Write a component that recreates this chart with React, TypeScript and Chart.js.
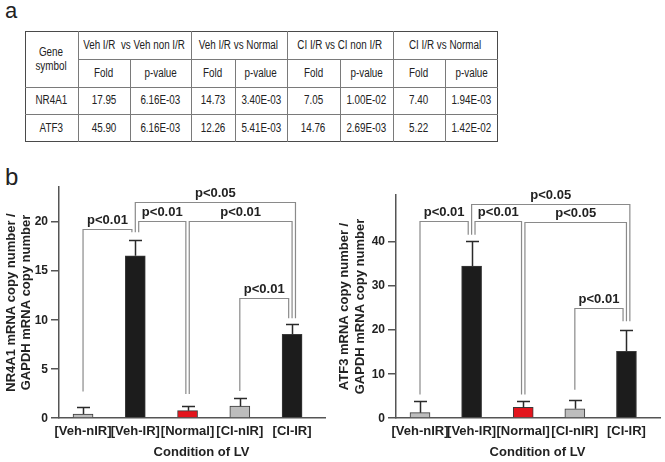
import React, { useEffect, useRef } from 'react';
import { Chart, registerables } from 'chart.js';
Chart.register(...registerables);

// ---------- data ----------
const categories = ['[Veh-nIR]', '[Veh-IR]', '[Normal]', '[CI-nIR]', '[CI-IR]'];
const barColors = ['#bdbdbd', '#1c1c1c', '#e3151d', '#bdbdbd', '#1c1c1c'];

const nr4a1Mean = [0.4, 16.5, 0.75, 1.2, 8.5];
const nr4a1Upper = [1.15, 18.1, 1.25, 2.05, 9.55];
const nr4a1Ticks = [0, 5, 10, 15, 20];
const nr4a1Max = 23.5;
const nr4a1BracketPairs = [[0, 1], [1, 2], [1, 4], [2, 4], [3, 4]];
const nr4a1BracketLevels = [19.25, 20.0, 22.0, 20.0, 12.2];
const nr4a1BracketEnds = [[2.7, 18.9], [18.9, 2.45], [18.9, 10.15], [2.45, 10.15], [2.75, 10.15]];
const nr4a1BracketLabels = ['p<0.01', 'p<0.01', 'p<0.05', 'p<0.01', 'p<0.01'];

const atf3Mean = [1.2, 34.4, 2.4, 2.1, 15.1];
const atf3Upper = [3.8, 40, 3.9, 4.1, 20];
const atf3Ticks = [0, 10, 20, 30, 40];
const atf3Max = 50.5;
const atf3BracketPairs = [[0, 1], [1, 2], [1, 4], [2, 4], [3, 4]];
const atf3BracketLevels = [44.5, 44.5, 48.5, 44.3, 24.9];
const atf3BracketEnds = [[5.3, 41.5], [41.5, 5.3], [41.5, 21.9], [5.3, 21.9], [6.4, 21.9]];
const atf3BracketLabels = ['p<0.01', 'p<0.01', 'p<0.05', 'p<0.05', 'p<0.01'];

const comparisons = ['Veh I/R  vs Veh non I/R', 'Veh I/R vs Normal', 'CI I/R vs CI non I/R', 'CI I/R vs Normal'];
const geneSymbols = ['NR4A1', 'ATF3'];
const nr4a1Fold = [17.95, 14.73, 7.05, 7.4];
const nr4a1PValue = ['6.16E-03', '3.40E-03', '1.00E-02', '1.94E-03'];
const atf3Fold = [45.9, 12.26, 14.76, 5.22];
const atf3PValue = ['6.16E-03', '5.41E-03', '2.69E-03', '1.42E-02'];

const xTitleText = 'Condition of LV';
const nr4a1YTitle = ['NR4A1 mRNA copy number /', 'GAPDH mRNA copy number'];
const atf3YTitle = ['ATF3 mRNA copy number /', 'GAPDH mRNA copy number'];

// ---------- styling ----------
const FONT = "'Liberation Sans', Arial, Helvetica, sans-serif";
const TEXT = '#222';
const AXIS = '#555';

function narrowAvailable(): boolean {
  try {
    const c = document.createElement('canvas').getContext('2d');
    if (!c) return false;
    const s = 'Veh I/R vs Normal p-value';
    c.font = "12px 'Liberation Sans Narrow', monospace";
    const a = c.measureText(s).width;
    c.font = '12px monospace';
    const b = c.measureText(s).width;
    return Math.abs(a - b) > 0.5;
  } catch (e) {
    return false;
  }
}

type ChartProps = {
  width: number;
  height: number;
  area: { left: number; top: number; right: number; bottom: number };
  xRange: [number, number];
  means: number[];
  uppers: number[];
  ticks: number[];
  max: number;
  pairs: number[][];
  levels: number[];
  ends: number[][];
  labels: string[];
  yTitle: string[];
  titlePad: number;
  style: React.CSSProperties;
};

function BarChart(p: ChartProps) {
  const ref = useRef<HTMLCanvasElement | null>(null);
  useEffect(() => {
    if (!ref.current) return;

    // leg offsets around each bar
    const perBar: Record<number, { key: string; dir: number; level: number }[]> = {};
    p.pairs.forEach(([a, b], bi) => {
      (perBar[a] = perBar[a] || []).push({ key: bi + '-0', dir: 1, level: p.levels[bi] });
      (perBar[b] = perBar[b] || []).push({ key: bi + '-1', dir: -1, level: p.levels[bi] });
    });
    const offsets: Record<string, number> = {};
    Object.keys(perBar).forEach((k) => {
      const legs = perBar[+k];
      const left = legs.filter((l) => l.dir === -1).sort((u, v) => u.level - v.level);
      const right = legs.filter((l) => l.dir === 1).sort((u, v) => v.level - u.level);
      const all = [...left, ...right];
      all.forEach((l, i) => {
        offsets[l.key] = (i - (all.length - 1) / 2) * 3.4;
      });
    });

    const errorBars = {
      id: 'errorBars',
      afterDatasetsDraw(chart: any) {
        const { ctx, scales } = chart;
        const x = scales.x, y = scales.y;
        ctx.save();
        ctx.strokeStyle = '#2a2a2a';
        ctx.lineWidth = 1.5;
        p.means.forEach((m, i) => {
          const px = Math.round(x.getPixelForValue(i)) + 0.5;
          const y0 = y.getPixelForValue(m);
          const y1 = Math.round(y.getPixelForValue(p.uppers[i])) + 0.5;
          ctx.beginPath();
          ctx.moveTo(px, y0);
          ctx.lineTo(px, y1);
          ctx.moveTo(px - 6.5, y1);
          ctx.lineTo(px + 6.5, y1);
          ctx.stroke();
        });
        ctx.restore();
      },
    };

    const brackets = {
      id: 'brackets',
      afterDatasetsDraw(chart: any) {
        const { ctx, scales } = chart;
        const x = scales.x, y = scales.y;
        ctx.save();
        ctx.strokeStyle = '#8a8a8a';
        ctx.lineWidth = 1.2;
        ctx.fillStyle = TEXT;
        ctx.font = `bold 13px ${FONT}`;
        ctx.textAlign = 'center';
        ctx.textBaseline = 'alphabetic';
        p.pairs.forEach(([a, b], bi) => {
          const xa = x.getPixelForValue(a) + offsets[bi + '-0'];
          const xb = x.getPixelForValue(b) + offsets[bi + '-1'];
          const yt = Math.round(y.getPixelForValue(p.levels[bi])) + 0.5;
          const ya = y.getPixelForValue(p.ends[bi][0]);
          const yb = y.getPixelForValue(p.ends[bi][1]);
          ctx.beginPath();
          ctx.moveTo(xa, ya);
          ctx.lineTo(xa, yt);
          ctx.lineTo(xb, yt);
          ctx.lineTo(xb, yb);
          ctx.stroke();
          ctx.fillText(p.labels[bi], (xa + xb) / 2, yt - 6);
        });
        ctx.restore();
      },
    };

    // y tick labels and x title
    const extraText = {
      id: 'extraText',
      afterDraw(chart: any) {
        const { ctx, chartArea, scales } = chart;
        ctx.save();
        ctx.fillStyle = TEXT;
        ctx.font = `bold 12px ${FONT}`;
        ctx.textAlign = 'right';
        ctx.textBaseline = 'middle';
        p.ticks.forEach((v) => {
          ctx.fillText(String(v), chartArea.left - 11, scales.y.getPixelForValue(v) + 0.5);
        });
        ctx.font = `bold 13px ${FONT}`;
        ctx.textAlign = 'center';
        ctx.fillText(xTitleText, (chartArea.left + chartArea.right) / 2 + 9.5, p.height - 10);
        ctx.restore();
      },
    };

    const chart = new Chart(ref.current, {
      type: 'bar',
      data: {
        datasets: [
          {
            data: p.means.map((v, i) => ({ x: i, y: v })),
            backgroundColor: barColors,
            borderColor: '#3a3a3a',
            borderWidth: 1,
            barThickness: 20,
          } as any,
        ],
      },
      options: {
        animation: false,
        responsive: false,
        devicePixelRatio: 1,
        layout: { padding: { top: p.area.top, right: p.width - p.area.right, left: 0, bottom: 0 } },
        plugins: { legend: { display: false }, tooltip: { enabled: false }, title: { display: false } },
        scales: {
          x: {
            type: 'linear',
            min: p.xRange[0],
            max: p.xRange[1],
            offset: false,
            afterBuildTicks: (s: any) => {
              s.ticks = categories.map((_, i) => ({ value: i }));
            },
            ticks: {
              callback: (v: any) => categories[v as number] ?? '',
              font: { family: FONT, size: 13, weight: 'bold' },
              color: TEXT,
              padding: 6,
              autoSkip: false,
              maxRotation: 0,
              minRotation: 0,
            },
            grid: { display: false, drawTicks: false, offset: false },
            border: { display: true, color: AXIS, width: 1.5 },
            afterFit: (s: any) => {
              s.height = p.height - p.area.bottom;
            },
          },
          y: {
            type: 'linear',
            min: 0,
            max: p.max,
            afterBuildTicks: (s: any) => {
              s.ticks = p.ticks.map((v) => ({ value: v }));
            },
            ticks: { display: false, autoSkip: false },
            grid: { display: true, drawOnChartArea: false, drawTicks: true, tickLength: 8, color: AXIS, lineWidth: 1.5 },
            border: { display: true, color: AXIS, width: 1.5 },
            title: {
              display: true,
              text: p.yTitle,
              font: { family: FONT, size: 13, weight: 'bold', lineHeight: 1.2 },
              color: TEXT,
              padding: { top: p.titlePad, bottom: 0 },
            },
            afterFit: (s: any) => {
              s.width = p.area.left;
            },
          },
        },
      } as any,
      plugins: [errorBars, brackets, extraText],
    });
    return () => chart.destroy();
  }, []);
  return <canvas ref={ref} width={p.width} height={p.height} style={{ position: 'absolute', ...p.style, width: p.width, height: p.height }} />;
}

const colX = [25, 78, 130, 190.7, 235, 287, 340, 393, 445, 498];
const rowY = [31, 58.7, 86.7, 114.3, 142];

function DataTable() {
  const narrow = narrowAvailable();
  const fontFamily = narrow ? "'Liberation Sans Narrow', 'Arial Narrow', sans-serif" : FONT;
  const cells: { c0: number; c1: number; r0: number; r1: number; text: string }[] = [];
  cells.push({ c0: 0, c1: 1, r0: 0, r1: 2, text: 'Gene\nsymbol' });
  comparisons.forEach((t, i) => {
    cells.push({ c0: 1 + i * 2, c1: 3 + i * 2, r0: 0, r1: 1, text: t });
    cells.push({ c0: 1 + i * 2, c1: 2 + i * 2, r0: 1, r1: 2, text: 'Fold' });
    cells.push({ c0: 2 + i * 2, c1: 3 + i * 2, r0: 1, r1: 2, text: 'p-value' });
  });
  const rows = [
    { fold: nr4a1Fold, p: nr4a1PValue },
    { fold: atf3Fold, p: atf3PValue },
  ];
  geneSymbols.forEach((g, gi) => {
    cells.push({ c0: 0, c1: 1, r0: 2 + gi, r1: 3 + gi, text: g });
    rows[gi].fold.forEach((f, i) => {
      cells.push({ c0: 1 + i * 2, c1: 2 + i * 2, r0: 2 + gi, r1: 3 + gi, text: f.toFixed(2) });
      cells.push({ c0: 2 + i * 2, c1: 3 + i * 2, r0: 2 + gi, r1: 3 + gi, text: rows[gi].p[i] });
    });
  });

  const lines: React.ReactNode[] = [];
  const inner = '#7a7a7a';
  lines.push(<div key="h1" style={{ position: 'absolute', left: colX[1], top: rowY[1], width: colX[9] - colX[1], height: 1, background: inner }} />);
  lines.push(<div key="h2" style={{ position: 'absolute', left: colX[0], top: rowY[2], width: colX[9] - colX[0], height: 1, background: inner }} />);
  lines.push(<div key="h3" style={{ position: 'absolute', left: colX[0], top: rowY[3], width: colX[9] - colX[0], height: 1, background: inner }} />);
  [1, 3, 5, 7].forEach((c) => {
    lines.push(<div key={'vf' + c} style={{ position: 'absolute', left: colX[c], top: rowY[0], width: 1, height: rowY[4] - rowY[0], background: inner }} />);
  });
  [2, 4, 6, 8].forEach((c) => {
    lines.push(<div key={'vp' + c} style={{ position: 'absolute', left: colX[c], top: rowY[1], width: 1, height: rowY[4] - rowY[1], background: inner }} />);
  });

  return (
    <>
      <div style={{ position: 'absolute', left: colX[0], top: rowY[0], width: colX[9] - colX[0], height: rowY[4] - rowY[0], border: '1.5px solid #4a4a4a', boxSizing: 'border-box' }} />
      {lines}
      {cells.map((c, i) => (
        <div
          key={i}
          style={{
            position: 'absolute',
            left: colX[c.c0],
            top: rowY[c.r0],
            width: colX[c.c1] - colX[c.c0],
            height: rowY[c.r1] - rowY[c.r0],
            display: 'flex',
            alignItems: 'center',
            justifyContent: 'center',
            textAlign: 'center',
            fontFamily,
            fontSize: 12,
            lineHeight: '14px',
            color: TEXT,
            whiteSpace: 'pre',
          }}
        >
          <span style={{ display: 'inline-block', transform: narrow ? undefined : 'scaleX(0.82)' }}>{c.text}</span>
        </div>
      ))}
    </>
  );
}

export default function App() {
  return (
    <div style={{ position: 'absolute', left: 0, top: 0, width: 665, height: 462, background: '#fff', overflow: 'hidden' }}>
      <div style={{ position: 'absolute', left: 5, top: 0, fontFamily: FONT, fontSize: 22, lineHeight: '22px', color: TEXT }}>a</div>
      <DataTable />
      <div style={{ position: 'absolute', left: 5, top: 165, fontFamily: FONT, fontSize: 24, lineHeight: '24px', color: TEXT }}>b</div>
      <BarChart
        width={330}
        height={307}
        area={{ left: 59, top: 32, right: 325, bottom: 263 }}
        xRange={[-0.46, 4.63]}
        means={nr4a1Mean}
        uppers={nr4a1Upper}
        ticks={nr4a1Ticks}
        max={nr4a1Max}
        pairs={nr4a1BracketPairs}
        levels={nr4a1BracketLevels}
        ends={nr4a1BracketEnds}
        labels={nr4a1BracketLabels}
        yTitle={nr4a1YTitle}
        titlePad={3.5}
        style={{ left: 0, top: 155 }}
      />
      <BarChart
        width={335}
        height={307}
        area={{ left: 66, top: 40, right: 330, bottom: 263 }}
        xRange={[-0.465, 4.65]}
        means={atf3Mean}
        uppers={atf3Upper}
        ticks={atf3Ticks}
        max={atf3Max}
        pairs={atf3BracketPairs}
        levels={atf3BracketLevels}
        ends={atf3BracketEnds}
        labels={atf3BracketLabels}
        yTitle={atf3YTitle}
        titlePad={7}
        style={{ left: 330, top: 155 }}
      />
    </div>
  );
}
